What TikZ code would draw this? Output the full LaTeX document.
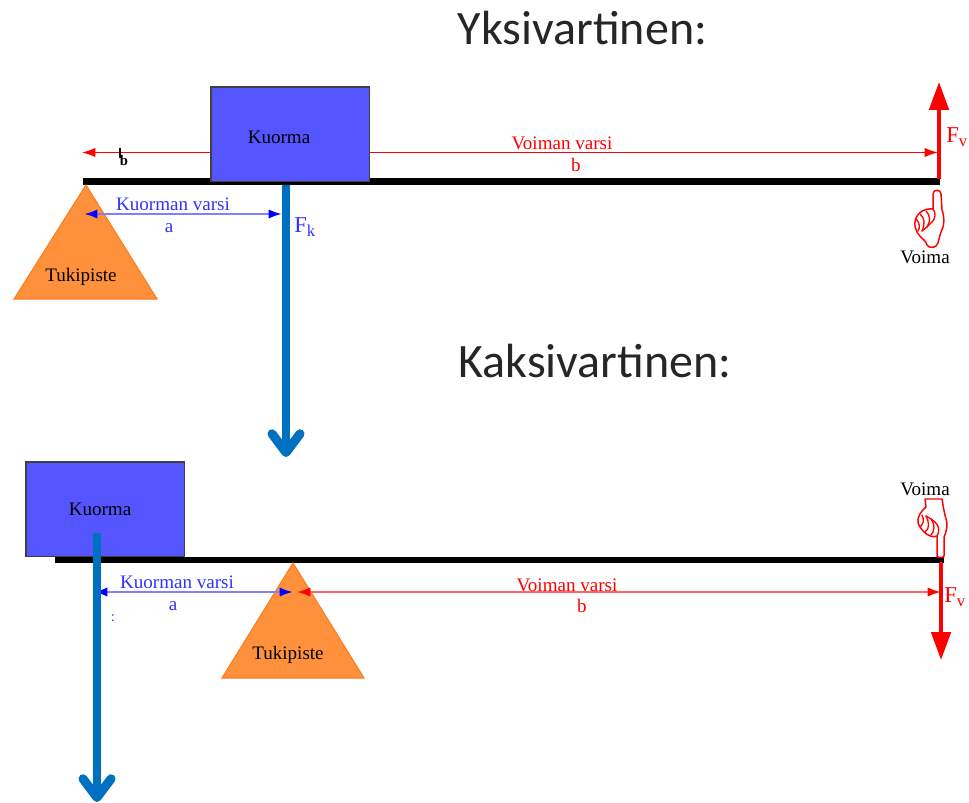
\documentclass[tikz,border=0pt]{standalone}
\usepackage{fontspec}
\setmainfont{Liberation Serif}
\newfontfamily\headfont{Carlito}
\usetikzlibrary{arrows.meta}
\definecolor{boxblue}{RGB}{85,85,255}
\definecolor{triorange}{RGB}{255,145,60}
\definecolor{triedge}{RGB}{250,125,30}
\definecolor{forceblue}{RGB}{0,112,192}
\definecolor{lblblue}{RGB}{50,50,255}
\newcommand{\forcelabel}[1]{\fontsize{17}{19}\selectfont F\raisebox{-3.5pt}{\fontsize{12.5}{13}\selectfont #1}}
\tikzset{
  x=0.75pt,y=-0.75pt,
  head/.style={font=\headfont\fontsize{36}{40}\selectfont,text=black!85,inner sep=0pt},
  lbl/.style={font=\fontsize{14.3}{16}\selectfont,inner sep=0pt},
  bluelbl/.style={lbl,text=lblblue},
  redlbl/.style={lbl,text=red},
  load/.style={draw=black!75,line width=1.3pt,fill=boxblue,minimum width=119pt,minimum height=71pt,inner sep=0pt,anchor=north west},
  beam/.style={line width=5.2pt,black},
  support/.style={draw=triedge,fill=triorange,line width=0.8pt,line join=miter},
  arm/.style={line width=1pt,red,-{Latex[length=10pt,width=7pt]}},
  armblue/.style={line width=1.8pt,blue!50,{Latex[length=10pt,width=7pt,blue]}-{Latex[length=10pt,width=7pt,blue]}},
  armred/.style={line width=1.6pt,red!60,{Latex[length=10pt,width=7pt,red]}-{Latex[length=10pt,width=7pt,red]}},
  redforce/.style={line width=3pt,red,-{Triangle[length=21pt,width=14.5pt]}},
  blueforce/.style={line width=6pt,forceblue,-{Straight Barb[length=14pt,width=21pt,line width=6.8pt,round]}},
  hand/.style={draw=red,line width=1.1pt,fill=white,line join=round},
  handline/.style={red,line width=1pt,line cap=round},
}
\begin{document}
\begin{tikzpicture}
\useasboundingbox (0,0) rectangle (969,802);
% ---- upper lever
\node[head] (t1) at (582.5,28) {Yksivartinen:};
\coordinate (b1l) at (83,181.5);
\coordinate (b1r) at (940,181.5);
\coordinate (arrowL) at (82,152.5);
\coordinate (arrowR) at (938,152.5);
\draw[arm] (210,152.5) -- (arrowL);
\draw[arm] (369,152.5) -- (arrowR);
\draw[beam] (b1l) -- (b1r);
\node[load] (k1) at (210,86) {};
\node[lbl] (k1t) at (279,137) {Kuorma};
\draw[support] (86,185) -- (157,299) -- (14,299) -- cycle;
\node[lbl] (tp1) at (81,277) {Tukipiste};
\node[bluelbl] (kv1) at (173,204) {Kuorman varsi};
\node[bluelbl] (a1) at (169,228) {a};
\node[redlbl] (vv1) at (562,143) {Voiman varsi};
\node[redlbl] (bb1) at (576,165) {b};
\node[lbl,font=\fontsize{11}{12}\selectfont\bfseries] (stray1) at (124,160) {b};
\draw[black,line width=1.2pt] (120,148) -- (120,158);
\draw[blueforce] (286,185) coordinate (f1top) -- (286,457) coordinate (f1end);
\draw[armblue] (84,214) -- (282,214);
\node[bluelbl,anchor=west] (fk) at (294,227) {\forcelabel{k}};
\coordinate (fv1a) at (939,179);
\coordinate (fv1b) at (939,82);
\draw[redforce] (fv1a) -- (fv1b);
\node[redlbl,anchor=west] (fv1) at (946,137) {\forcelabel{v}};
% hand pointing up
\begin{scope}[shift={(937,190)}]
\draw[hand] (-4,4) .. controls (-4,-1) and (4,-1) .. (4,4) -- (5,20) .. controls (8,28) and (7,37) .. (4,42) .. controls (2,47) and (2,53) .. (-1,56) .. controls (-4,58) and (-8,58) .. (-10,55) .. controls (-11,52) and (-12,51) .. (-13,50) .. controls (-18,46) and (-23,40) .. (-22,32) .. controls (-21,24) and (-14,18) .. (-4,19) -- cycle;
\draw[handline] (-4,19) .. controls (-1,23) and (-1,29) .. (-6,33);
\draw[handline] (-11,21) .. controls (-7,25) and (-6,31) .. (-10,37);
\draw[handline] (-17,24) .. controls (-12,28) and (-12,34) .. (-15,41);
\draw[handline] (-21,29) .. controls (-17,33) and (-17,38) .. (-19,41);
\draw[handline] (-6,33) -- (-10,37) -- (-15,41);
\end{scope}
\node[lbl] (v1) at (925,257) {Voima};
% ---- lower lever
\node[head] (t2) at (595,361) {Kaksivartinen:};
\coordinate (b2l) at (55,560);
\coordinate (b2r) at (944,560);
\draw[beam] (b2l) -- (b2r);
\node[load] (k2) at (25,461) {};
\node[lbl] (k2t) at (100,509) {Kuorma};
\draw[support] (293,563) -- (364,678) -- (222,678) -- cycle;
\node[lbl] (tp2) at (288,655) {Tukipiste};
\node[bluelbl] (kv2) at (177,582) {Kuorman varsi};
\node[bluelbl] (a2) at (173,606) {a};
\node[bluelbl,font=\fontsize{11}{12}\selectfont] (colon) at (113,618) {:};
\node[redlbl] (vv2) at (567,585) {Voiman varsi};
\node[redlbl] (bb2) at (582,606) {b};
\coordinate (af2) at (94,592);
\coordinate (at2) at (293,592);
\draw[armblue] (af2) -- (at2);
\draw[armred] (297,592) -- (941,592);
\coordinate (f2top) at (97,533);
\coordinate (f2end) at (97,802);
\draw[blueforce] (f2top) -- (f2end);
\coordinate (fv2a) at (941,562);
\coordinate (fv2b) at (941,660);
\draw[redforce] (fv2a) -- (fv2b);
\node[redlbl,anchor=west] (fv2) at (944,597) {\forcelabel{v}};
% hand pointing down
\begin{scope}[shift={(940,557)},yscale=-1]
\draw[hand] (-3,1) .. controls (-3,-1) and (4,-1) .. (4,1) -- (4,20) .. controls (7,27) and (8,33) .. (6,38) .. controls (4,45) and (3,52) .. (2,58) -- (-15,58) -- (-14,50) .. controls (-19,46) and (-23,40) .. (-22,34) .. controls (-19,26) and (-10,18) .. (-3,21) -- cycle;
\draw[handline] (-3,21) .. controls (0,26) and (-1,31) .. (-5,35);
\draw[handline] (-9,22) .. controls (-5,26) and (-5,33) .. (-9,38);
\draw[handline] (-15,25) .. controls (-10,28) and (-11,36) .. (-14,41);
\draw[handline] (-20,30) .. controls (-16,33) and (-16,38) .. (-18,42);
\draw[handline] (-5,35) -- (-9,38) -- (-14,41);
\end{scope}
\node[lbl] (v2) at (925,489) {Voima};
\end{tikzpicture}
\end{document}
